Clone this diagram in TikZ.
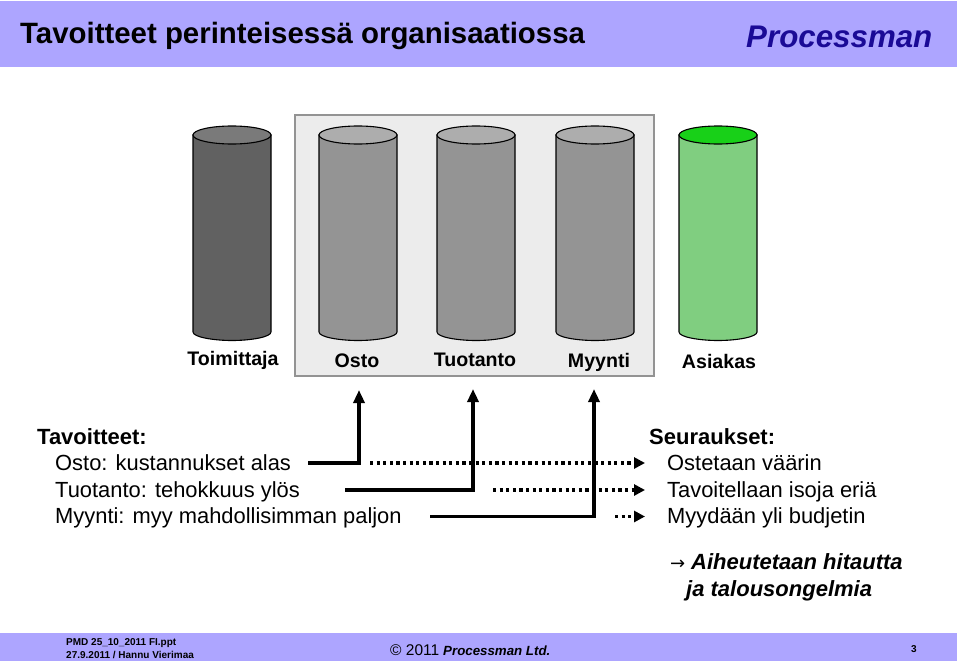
\documentclass[tikz,border=0pt]{standalone}
\usepackage{fontspec}
\setmainfont{Liberation Sans}
\newfontfamily\dejavu{DejaVu Sans}
\usetikzlibrary{arrows.meta}
\definecolor{band}{HTML}{ADA5FF}
\definecolor{brand}{HTML}{1A0A96}
\definecolor{cylgreen}{RGB}{128,206,128}
\definecolor{topgreen}{RGB}{24,208,24}
\tikzset{
  x=1pt,y=-1pt,
  cylbody/.style={draw=black,line width=1.1pt},
  lab/.style={font=\bfseries\fontsize{19.6}{19.6}\selectfont,text=black,inner sep=0pt},
  txt/.style={font=\fontsize{21.9}{21.9}\selectfont,text=black,inner sep=0pt,anchor=base west},
  btxt/.style={font=\bfseries\fontsize{22}{22}\selectfont,text=black,inner sep=0pt,anchor=base west},
  itxt/.style={font=\bfseries\itshape\fontsize{22}{22}\selectfont,text=black,inner sep=0pt,anchor=base west},
  solidarrow/.style={line width=3.4pt,-{Triangle[length=13pt,width=11pt]}},
  dotarrow/.style={line width=3.2pt,dash pattern=on 3.2pt off 3.4pt,-{Triangle[length=11pt,width=11pt]}},
  foot/.style={font=\bfseries\fontsize{10}{10}\selectfont,text=black,inner sep=0pt,anchor=base west},
}
\newcommand{\cyl}[4]{% left, right, body colour, top colour
  \path[cylbody,fill=#3] (#1,135) -- (#1,332) .. controls (#1,337) and (#1+20,340.5) .. ({(#1+#2)/2},340.5)
    .. controls (#2-20,340.5) and (#2,337) .. (#2,332) -- (#2,135) -- cycle;
  \path[cylbody,fill=#4] ({(#1+#2)/2},135) ellipse [x radius=39,y radius=9];
}
\begin{document}
\begin{tikzpicture}
\useasboundingbox (0,0) rectangle (960,664);
\fill[white] (0,0) rectangle (960,664);
\fill[band] (0,1) rectangle (957,67);
\fill[band] (0,633) rectangle (957,661);
\node[anchor=base west,inner sep=0pt,font=\bfseries\fontsize{29.4}{29.4}\selectfont] (title) at (20,43) {Tavoitteet perinteisessä organisaatiossa};
\node[anchor=base west,inner sep=0pt,text=brand,font=\bfseries\itshape\fontsize{31.3}{31.3}\selectfont] (logo) at (746,47) {Processman};
\fill[gray!15,draw=gray!85,line width=1.2pt] (295,115) rectangle (654,376);
\cyl{193}{271}{black!62}{black!52}
\cyl{319}{397}{black!42}{black!32}
\cyl{437}{515}{black!42}{black!32}
\cyl{556}{634}{black!42}{black!32}
\cyl{679}{757}{cylgreen}{topgreen}
\node[lab] (toim) at (233,360) {Toimittaja};
\node[lab] (osto) at (357,361) {Osto};
\node[lab] (tuot) at (475,360) {Tuotanto};
\node[lab] (myyn) at (599,362) {Myynti};
\node[lab] (asia) at (719,361) {Asiakas};
\node[btxt] (tav) at (37,444) {Tavoitteet:};
\node[txt] (t1) at (55,470) {Osto: kustannukset alas};
\node[txt] (t2) at (55,497) {Tuotanto: tehokkuus ylös};
\node[txt] (t3) at (55,523) {Myynti: myy mahdollisimman paljon};
\node[btxt] (seu) at (649,444) {Seuraukset:};
\node[txt] (s1) at (667,470) {Ostetaan väärin};
\node[txt] (s2) at (667,497) {Tavoitellaan isoja eriä};
\node[txt] (s3) at (667,523) {Myydään yli budjetin};
\node[inner sep=0pt,anchor=base west,font=\dejavu\fontsize{18}{18}\selectfont] (arr) at (670,569) {→};
\node[itxt] (r1) at (691,569.5) {Aiheutetaan hitautta};
\node[itxt] (r2) at (686,596) {ja talousongelmia};
\coordinate (a1s) at (308,463); \coordinate (a1c) at (359,463); \coordinate (a1e) at (359,390);
\coordinate (a2s) at (345,490); \coordinate (a2c) at (473,490); \coordinate (a2e) at (473,389);
\coordinate (a3s) at (430,516.5); \coordinate (a3c) at (594,516.5); \coordinate (a3e) at (594,389);
\coordinate (d1s) at (370,463); \coordinate (d1e) at (645,463);
\coordinate (d2s) at (493,490); \coordinate (d2e) at (645,490);
\coordinate (d3s) at (615,516.5); \coordinate (d3e) at (645,516.5);
\draw[dotarrow] (d1s) -- (d1e);
\draw[dotarrow] (d2s) -- (d2e);
\draw[dotarrow] (d3s) -- (d3e);
\draw[solidarrow] (a1s) -- (a1c) -- (a1e);
\draw[solidarrow] (a2s) -- (a2c) -- (a2e);
\draw[solidarrow] (a3s) -- (a3c) -- (a3e);
\node[foot] (f1) at (66,645) {PMD 25\_10\_2011 FI.ppt};
\node[foot] (f2) at (66,658) {27.9.2011 / Hannu Vierimaa};
\node[inner sep=0pt,anchor=base west,font=\fontsize{15.5}{15.5}\selectfont] (c) at (390,655) {© 2011};
\node[inner sep=0pt,anchor=base west,text=black,font=\bfseries\itshape\fontsize{13.3}{13.3}\selectfont] (ltd) at (443,655) {Processman Ltd.};
\node[foot] (pg) at (911,652) {3};
\end{tikzpicture}
\end{document}
